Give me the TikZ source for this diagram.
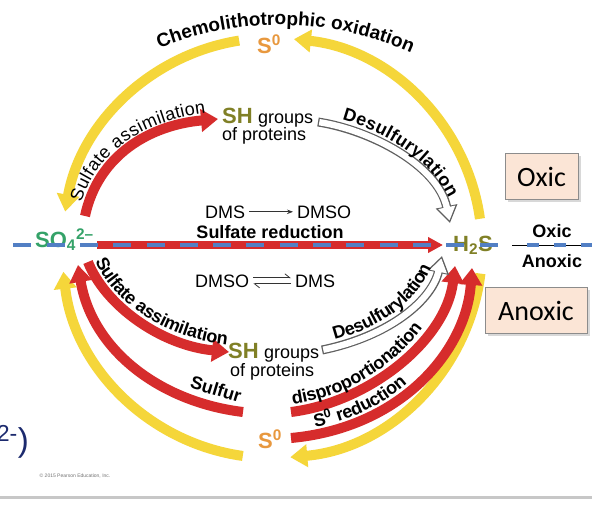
\documentclass[tikz,border=0pt]{standalone}
\usepackage{fontspec}
\setmainfont{Liberation Sans}
\newfontfamily\calibrifont{Carlito}
\usetikzlibrary{arrows.meta,positioning,decorations.text,shadows}
\definecolor{cycleyellow}{RGB}{245,214,58}
\definecolor{cyclered}{RGB}{214,44,44}
\definecolor{zoneblue}{RGB}{82,127,196}
\definecolor{sulfategreen}{RGB}{52,162,104}
\definecolor{thiololive}{RGB}{128,128,38}
\definecolor{sulfurorange}{RGB}{232,152,62}
\definecolor{outlinegray}{RGB}{95,95,95}
\definecolor{zonepeach}{RGB}{251,229,214}
\definecolor{inkblue}{RGB}{28,42,110}
\newcommand{\fsz}[1]{\fontsize{#1}{#1}\selectfont}
\newcommand{\arcfont}{\fontsize{18}{18}\selectfont\bfseries}
\newcommand{\arcfontlight}{\fontsize{18}{18}\selectfont}
\newcommand{\chemfont}{\fontsize{19}{19}\selectfont\bfseries}
\tikzset{
  cyclearc/.style={line width=10pt,-{Triangle[length=17pt,width=22pt]}},
  yellowarc/.style={cyclearc,draw=cycleyellow},
  redarc/.style={cyclearc,draw=cyclered},
  openarc/.style={draw=outlinegray,line width=9pt,-{Triangle[length=17pt,width=21pt]},
    postaction={draw=white,line width=6.4pt,shorten <=1.3pt,shorten >=2.5pt,
      -{Triangle[length=13.5pt,width=16.5pt]}}},
  redbar/.style={draw=cyclered,line width=8pt,-{Triangle[length=15pt,width=15pt]}},
  arclabel/.style={decorate,decoration={text along path,text align=center,raise=7pt,text color=black}},
  plaintext/.style={font=\fsz{18},inner sep=0pt},
  boldtext/.style={font=\fsz{18}\bfseries,inner sep=0pt},
  species/.style={font=\fsz{22}\bfseries,inner sep=0pt},
  convert/.style={draw=black!80,line width=0.8pt,-{Stealth[length=6pt,width=4.5pt]}},
  harpoon/.style={draw=black!80,line width=0.8pt,-{Straight Barb[left,length=5pt,width=8pt]}},
  zonebox/.style={draw=black!45,fill=zonepeach,font=\calibrifont\fsz{28},minimum height=46pt,
    inner sep=0pt,drop shadow={shadow xshift=2.5pt,shadow yshift=-2.5pt,fill=black!30}},
  zonedash/.style={draw=zoneblue,line width=4pt}
}
\begin{document}
\begin{tikzpicture}[x=1pt,y=-1pt]
  \fill[white] (0,0) rectangle (592,506);
  \useasboundingbox (0,0) rectangle (592,506);

  % yellow cycle
  \coordinate (C) at (272,248);
  \draw[yellowarc] (C) ++(261:210) arc[start angle=261,end angle=190,radius=210];
  \draw[yellowarc] (C) ++(352:210) arc[start angle=352,end angle=276,radius=210];
  \draw[yellowarc] (C) ++(98:210) arc[start angle=98,end angle=173.5,radius=210];
  \draw[yellowarc] (C) ++(7:210) arc[start angle=7,end angle=85,radius=210];
  \coordinate (chemA) at (147.8,53.1);
  \path[arclabel,decoration={raise=0pt,text={|\chemfont|Chemolithotrophic oxidation}}]
    (chemA) arc[start angle=246,end angle=296,radius=325];

  % red pathways
  \coordinate (asTopA) at (85,216);
  \coordinate (asTopB) at (218,119);
  \draw[redarc,postaction={arclabel,decoration={text={|\arcfontlight|Sulfate assimilation}}}]
    (asTopA) .. controls (98,155) and (150,125) .. (asTopB);
  \coordinate (asBotA) at (88,262);
  \coordinate (asBotB) at (229,352);
  \draw[redarc,postaction={arclabel,decoration={text={|\arcfont|Sulfate assimilation}}}]
    (asBotA) .. controls (105,305) and (160,345) .. (asBotB);
  \coordinate (sfA) at (243,412);
  \coordinate (sfB) at (78,265);
  \draw[redarc] (sfA) .. controls (160,402) and (92,350) .. (sfB);
  \coordinate (dpA) at (291,412);
  \coordinate (dpB) at (455,266);
  \draw[redarc,postaction={arclabel,decoration={text align={left,left indent=3pt},
      text={|\arcfont|disproportionation}}}]
    (dpA) .. controls (370,402) and (446,340) .. (dpB);
  \coordinate (srA) at (291,438);
  \coordinate (srB) at (472,268);
  \draw[redarc,postaction={arclabel,decoration={text align={left,left indent=26pt},
      text={|\arcfont|S{\textsuperscript{0}} reduction}}}]
    (srA) .. controls (400,428) and (466,352) .. (srB);
  \node[boldtext,rotate=-17] (sulfurLbl) at (216,389) {Sulfur};

  % desulfurylation
  \coordinate (dtA) at (318,122);
  \coordinate (dtB) at (450,223);
  \draw[openarc,postaction={arclabel,decoration={text={|\arcfont|Desulfurylation}}}]
    (dtA) .. controls (370,130) and (438,165) .. (dtB);
  \coordinate (dbA) at (322,350);
  \coordinate (dbB) at (442,256);
  \draw[openarc,postaction={arclabel,decoration={text={|\arcfont|Desulfurylation}}}]
    (dbA) .. controls (390,336) and (432,300) .. (dbB);

  % sulfate reduction bar
  \coordinate (barA) at (97,245);
  \coordinate (barB) at (443,245);
  \draw[redbar] (barA) -- (barB);

  % species
  \node[species,text=sulfategreen,anchor=base west] (so4) at (35,247) {SO\textsubscript{4}\textsuperscript{2–}};
  \node[species,text=thiololive,anchor=base west] (h2s) at (453,251) {H\textsubscript{2}S};
  \node[species,text=sulfurorange,anchor=base west] (s0top) at (257,53) {S\textsuperscript{0}};
  \node[species,text=sulfurorange,anchor=base west] (s0bot) at (258,448) {S\textsuperscript{0}};

  \node[species,text=thiololive,anchor=base west] (shTop) at (222,123) {SH};
  \node[plaintext,anchor=base west] (grpTop) at ([xshift=5pt]shTop.base east) {groups};
  \node[plaintext,anchor=base west] (protTop) at (222,140) {of proteins};
  \node[species,text=thiololive,anchor=base west] (shBot) at (228,358) {SH};
  \node[plaintext,anchor=base west] (grpBot) at ([xshift=5pt]shBot.base east) {groups};
  \node[plaintext,anchor=base west] (protBot) at (230,376) {of proteins};

  % DMS / DMSO
  \node[plaintext,anchor=base west,inner xsep=4pt] (dmsA) at (201,218) {DMS};
  \node[plaintext,anchor=base west,inner xsep=4pt] (dmsoA) at (293,218) {DMSO};
  \draw[convert] (dmsA.east) -- (dmsoA.west);
  \node[boldtext,anchor=base] (sred) at (270,238) {Sulfate reduction};
  \node[plaintext,anchor=base west,inner xsep=4pt] (dmsoB) at (191,287) {DMSO};
  \node[plaintext,anchor=base west,inner xsep=4pt] (dmsB) at (291,287) {DMS};
  \draw[harpoon] ([yshift=3pt]dmsoB.east) -- ([yshift=3pt]dmsB.west);
  \draw[harpoon] ([yshift=-3pt]dmsB.west) -- ([yshift=-3pt]dmsoB.east);

  % oxic / anoxic boundary
  \coordinate (lineL) at (0,245);
  \coordinate (lineR) at (506,245);
  \draw[zonedash,dash pattern=on 18pt off 15.3pt,dash phase=20pt] (lineL) -- (lineR);
  \coordinate (bndA) at (512,245);
  \coordinate (bndB) at (592,245);
  \draw[black,line width=0.9pt] (bndA) -- (bndB);
  \draw[zonedash,dash pattern=on 12pt off 15pt,dash phase=12pt] (bndA) -- (bndB);
  \node[boldtext,anchor=base] (oxicLbl) at (552,237) {Oxic};
  \node[boldtext,anchor=base] (anoxicLbl) at (552,267) {Anoxic};
  \node[zonebox,minimum width=73pt] (oxicBox) at (541.5,176.5) {Oxic};
  \node[zonebox,minimum width=102pt] (anoxicBox) at (536,310.5) {Anoxic};

  % slide leftovers
  \node[font=\fsz{33},text=inkblue,anchor=base east,inner sep=0pt] (chargeFrag) at (29,451) {\textsuperscript{2-})};
  \node[font=\fsz{5},text=black!55,inner sep=0pt] (credit) at (75,476) {\textcopyright\ 2015 Pearson Education, Inc.};
  \coordinate (ruleL) at (0,497);
  \coordinate (ruleR) at (592,497);
  \draw[black!22,line width=3pt] (ruleL) -- (ruleR);
\end{tikzpicture}
\end{document}
